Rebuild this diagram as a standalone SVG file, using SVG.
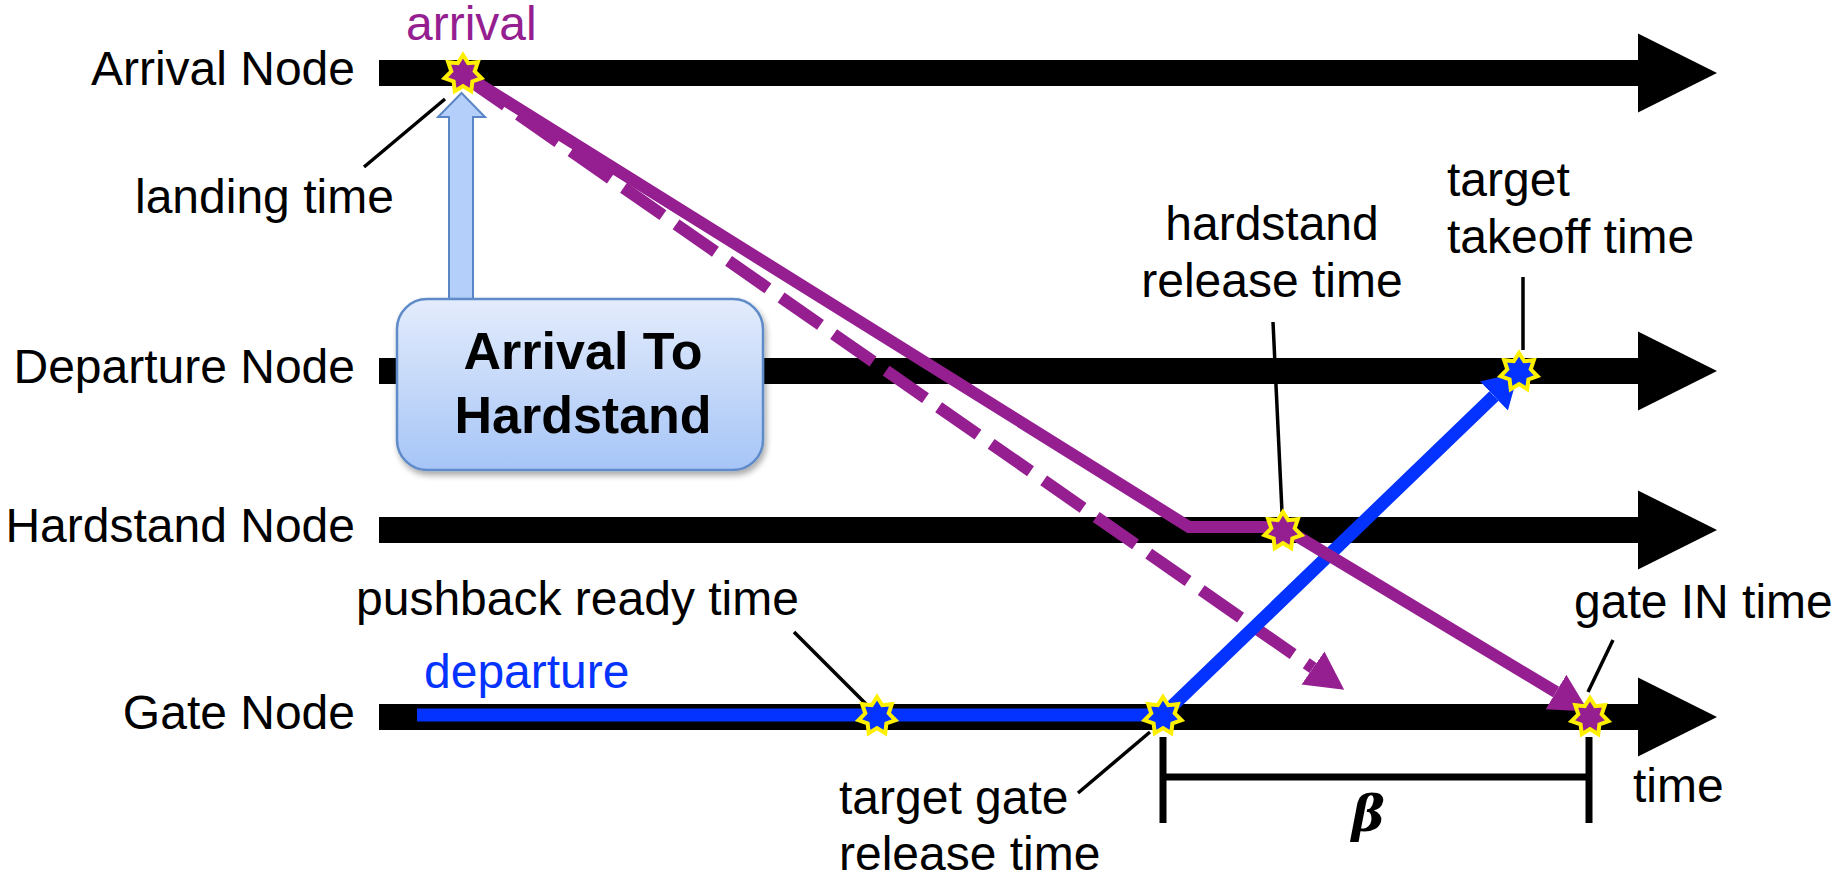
<svg xmlns="http://www.w3.org/2000/svg" width="1847" height="883" viewBox="0 0 1847 883">
  <style>
    text { font-family: "Liberation Sans", Arial, sans-serif; font-size: 48px; fill: #000; }
    .lbl { text-anchor: end; }
    .purple { fill: #951F90; }
    .blue { fill: #0433FF; }
    .bar { fill: #000; }
    .leader { stroke: #000; stroke-width: 3.5; fill: none; }
    .tick { stroke: #000; stroke-width: 7; fill: none; }
    .ptrack { stroke: #951F90; stroke-width: 12; fill: none; }
    .btrack { stroke: #0433FF; stroke-width: 13; fill: none; }
    .starP { fill: #951F90; stroke: #FFF000; stroke-width: 4; }
    .starB { fill: #0433FF; stroke: #FFF000; stroke-width: 4; }
    .boxtext { font-weight: bold; font-size: 52px; text-anchor: middle; }
  </style>
  <defs>
    <polygon id="star" points="0,-19 5.21,-10.81 14.85,-11.85 11.70,-2.67 18.52,4.23 9.38,7.48 8.24,17.12 0,12 -8.24,17.12 -9.38,7.48 -18.52,4.23 -11.70,-2.67 -14.85,-11.85 -5.21,-10.81"/>
    <marker id="headP" markerUnits="userSpaceOnUse" markerWidth="40" markerHeight="42" refX="0" refY="20" orient="auto" viewBox="0 0 40 40">
      <path d="M0,0 L38,20 L0,40 Z" fill="#951F90"/>
    </marker>
    <marker id="headB" markerUnits="userSpaceOnUse" markerWidth="40" markerHeight="42" refX="0" refY="20" orient="auto" viewBox="0 0 40 40">
      <path d="M0,0 L34,20 L0,40 Z" fill="#0433FF"/>
    </marker>
    <linearGradient id="boxFill" x1="0" y1="0" x2="0" y2="1">
      <stop offset="0" stop-color="#E3ECFC"/>
      <stop offset="1" stop-color="#A6C5F7"/>
    </linearGradient>
    <filter id="shadow" x="-10%" y="-10%" width="125%" height="130%">
      <feGaussianBlur in="SourceAlpha" stdDeviation="3"/>
      <feOffset dx="2" dy="4" result="b"/>
      <feComponentTransfer><feFuncA type="linear" slope="0.35"/></feComponentTransfer>
      <feMerge><feMergeNode/><feMergeNode in="SourceGraphic"/></feMerge>
    </filter>
  </defs>

  <rect width="1847" height="883" fill="#fff"/>

  <!-- time axes, one per node -->
  <g id="arrival-node">
    <path class="bar" d="M379,60 H1638 V33.5 L1717,73 L1638,112.5 V86 H379 Z"/>
    <text class="lbl" x="355" y="85">Arrival Node</text>
  </g>
  <g id="departure-node">
    <path class="bar" d="M379,358 H1638 V331.5 L1717,371 L1638,410.5 V384 H379 Z"/>
    <text class="lbl" x="355" y="383">Departure Node</text>
  </g>
  <g id="hardstand-node">
    <path class="bar" d="M379,517 H1638 V490.5 L1717,530 L1638,569.5 V543 H379 Z"/>
    <text class="lbl" x="355" y="542">Hardstand Node</text>
  </g>
  <g id="gate-node">
    <path class="bar" d="M379,704 H1638 V677.5 L1717,717 L1638,756.5 V730 H379 Z"/>
    <text class="lbl" x="355" y="729">Gate Node</text>
    <text x="1633" y="802">time</text>
  </g>

  <!-- flight tracks -->
  <g id="connectors">
    <path class="ptrack" d="M466,78 L1313,668" stroke-dasharray="48 16" marker-end="url(#headP)"/>
    <path class="btrack" d="M417,715 H1163 L1494,396" stroke-linejoin="miter" marker-end="url(#headB)"/>
    <path class="ptrack" d="M463,74 L1189,527 L1282,527 L1556,692" stroke-linejoin="miter" marker-end="url(#headP)"/>

    <!-- leader lines -->
    <line class="leader" x1="364" y1="167" x2="445" y2="99"/>
    <line class="leader" x1="1273" y1="322" x2="1282" y2="512"/>
    <line class="leader" x1="1523" y1="277" x2="1523" y2="350"/>
    <line class="leader" x1="794" y1="632" x2="867" y2="705"/>
    <line class="leader" x1="1078" y1="793" x2="1150" y2="732"/>
    <line class="leader" x1="1613" y1="640" x2="1588" y2="692"/>

    <!-- beta interval -->
    <line class="tick" x1="1163" y1="737" x2="1163" y2="823"/>
    <line class="tick" x1="1589" y1="737" x2="1589" y2="823"/>
    <line class="tick" x1="1163" y1="777" x2="1589" y2="777"/>
  </g>

  <!-- event markers -->
  <g id="events">
    <use href="#star" class="starP" x="463" y="74"/>
    <use href="#star" class="starP" x="1283" y="531"/>
    <use href="#star" class="starP" x="1590" y="717"/>
    <use href="#star" class="starB" x="1519" y="372"/>
    <use href="#star" class="starB" x="877" y="716"/>
    <use href="#star" class="starB" x="1163" y="716"/>
  </g>

  <!-- process callout -->
  <g id="arrival-to-hardstand">
    <path d="M449,300 V117 H438 L461.5,93 L485,117 H473 V300 Z" fill="#B4CFF9" stroke="#5B86C6" stroke-width="2"/>
    <rect x="397" y="299" width="366" height="171" rx="30" ry="30" fill="url(#boxFill)" stroke="#5F8BC8" stroke-width="2.5" filter="url(#shadow)"/>
    <text class="boxtext" x="583" y="369">Arrival To</text>
    <text class="boxtext" x="583" y="433">Hardstand</text>
  </g>

  <!-- annotations -->
  <g id="labels">
    <text class="purple" x="406" y="40">arrival</text>
    <text class="blue" x="424" y="688">departure</text>
    <text x="135" y="213">landing time</text>
    <text x="1272" y="240" text-anchor="middle">hardstand</text>
    <text x="1272" y="297" text-anchor="middle">release time</text>
    <text x="1447" y="196">target</text>
    <text x="1447" y="253">takeoff time</text>
    <text x="356" y="615">pushback ready time</text>
    <text x="1574" y="618">gate IN time</text>
    <text x="839" y="814">target gate</text>
    <text x="839" y="870">release time</text>
    <text x="1368" y="831" text-anchor="middle" style="font-family:'DejaVu Serif',serif;font-style:italic;font-weight:bold;font-size:50px">β</text>
  </g>
</svg>
